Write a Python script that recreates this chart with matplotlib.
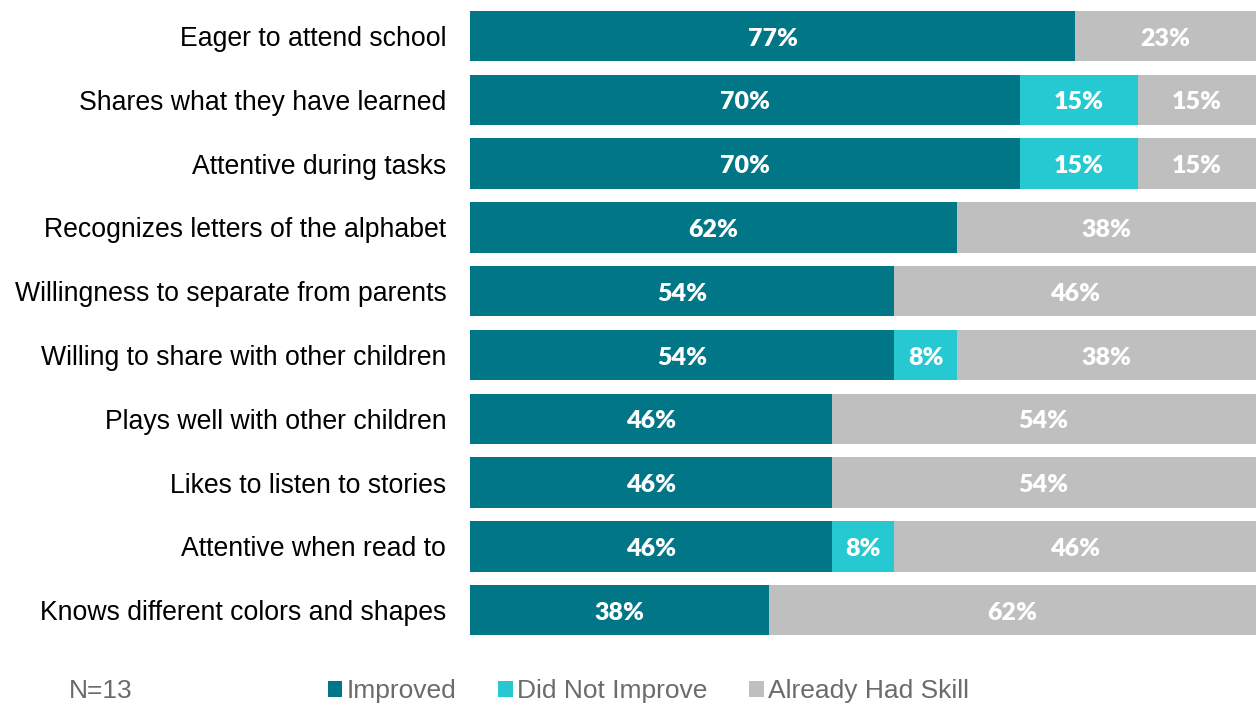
import matplotlib.pyplot as plt
import numpy as np
from matplotlib.patches import Patch

skills = ["Eager to attend school", "Shares what they have learned", "Attentive during tasks",
          "Recognizes letters of the alphabet", "Willingness to separate from parents",
          "Willing to share with other children", "Plays well with other children",
          "Likes to listen to stories", "Attentive when read to", "Knows different colors and shapes"]
improved = [77, 70, 70, 62, 54, 54, 46, 46, 46, 38]
not_improved = [0, 15, 15, 0, 0, 8, 0, 0, 8, 0]
had_skill = [23, 15, 15, 38, 46, 38, 54, 54, 46, 62]

series = [("Improved", improved, "#007686"),
          ("Did Not Improve", not_improved, "#26C9D1"),
          ("Already Had Skill", had_skill, "#BFBFBF")]

plt.rcParams['font.family'] = ['Liberation Sans', 'DejaVu Sans']

fig = plt.figure(figsize=(12.59, 7.04), dpi=100)
ax = fig.add_axes([0.3733, 0.088, 0.6243, 0.906])

y = np.arange(len(skills))
left = np.zeros(len(skills))
for name, vals, col in series:
    vals = np.array(vals, dtype=float)
    bars = ax.barh(y, vals, left=left, height=0.79, color=col, edgecolor='none')
    for b, v in zip(bars, vals):
        if v > 0:
            ax.text(b.get_x() + b.get_width() / 2, b.get_y() + b.get_height() / 2 + 0.04,
                    f"{int(v)}%", ha='center', va='center', color='white', fontsize=18,
                    fontweight='heavy', family=['Lato', 'DejaVu Sans'])
    left += vals

ax.set_xlim(0, 100)
ax.set_ylim(len(skills) - 0.5, -0.5)
ax.set_yticks(y)
ax.set_yticklabels(skills, fontsize=19.2)
ax.tick_params(axis='y', length=0, pad=17)
ax.set_xticks([])
for s in ax.spines.values():
    s.set_visible(False)

handles = [Patch(facecolor=c, edgecolor='none') for _, _, c in series]
fig.legend(handles, [n for n, _, _ in series], loc='center', bbox_to_anchor=(0.515, 0.018),
           ncol=3, frameon=False, fontsize=19, handlelength=0.55, handleheight=0.55,
           handletextpad=0.15, columnspacing=1.6, labelcolor='#6b6b6b')
fig.text(0.055, 0.018, "N=13", fontsize=19, color='#6b6b6b', va='center')

fig.savefig("out.png", dpi=100)
